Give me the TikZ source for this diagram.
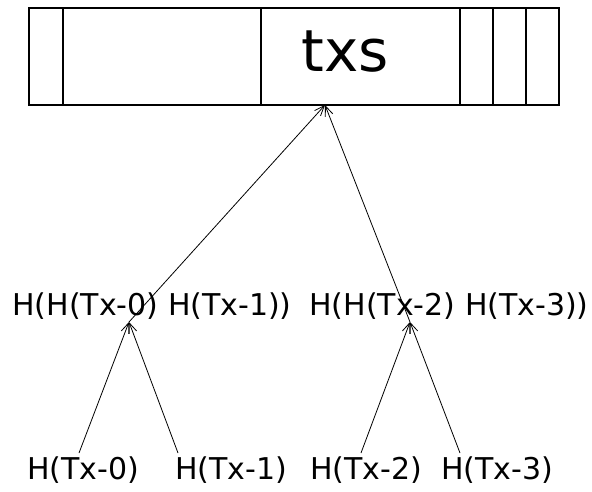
\documentclass[tikz,border=0pt]{standalone}
\usepackage{fontspec}
\setmainfont{DejaVu Sans}
\usetikzlibrary{arrows.meta}
\begin{document}
\begin{tikzpicture}[x=1pt,y=-1pt,
  lbl/.style={inner sep=0pt,font=\fontsize{30}{32}\selectfont},
  cellline/.style={line width=1.8pt},
  conn/.style={line width=0.8pt,-{Straight Barb[length=10pt,width=8pt]}}]
\useasboundingbox (0,0) rectangle (592,491);
% top box
\node[draw,cellline,minimum width=530pt,minimum height=97pt,inner sep=0pt,anchor=north west] (box) at (28,7) {};
\foreach \xx in {63,261,460,493,526}
  \draw[cellline] (\xx,7) -- (\xx,104);
\node[lbl,font=\fontsize{58}{62}\selectfont] (txs) at (345,52) {txs};
\coordinate (top) at (325,105);
% middle labels
\node[lbl] (m0) at (152,306) {H(H(Tx-0) H(Tx-1))};
\node[lbl] (m1) at (449,306) {H(H(Tx-2) H(Tx-3))};
\coordinate (c0) at (129,322);
\coordinate (c1) at (410,322);
% bottom labels
\node[lbl] (b0) at (83,470) {H(Tx-0)};
\node[lbl] (b1) at (231,470) {H(Tx-1)};
\node[lbl] (b2) at (366,470) {H(Tx-2)};
\node[lbl] (b3) at (497,470) {H(Tx-3)};
\coordinate (s0) at (79,453);
\coordinate (s1) at (178,453);
\coordinate (s2) at (361,453);
\coordinate (s3) at (460,453);
% connectors
\draw[conn] (s0) -- (c0);
\draw[conn] (s1) -- (c0);
\draw[conn] (s2) -- (c1);
\draw[conn] (s3) -- (c1);
\draw[conn] (c0) -- (top);
\draw[conn] (c1) -- (top);
\end{tikzpicture}
\end{document}
